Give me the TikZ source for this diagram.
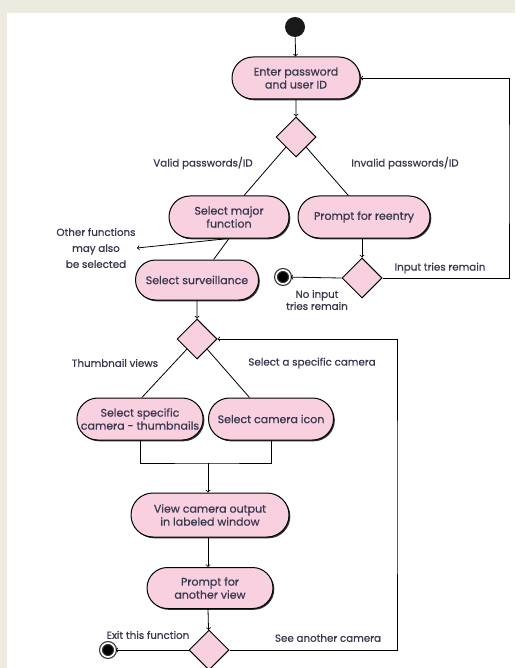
\documentclass[tikz,border=0pt]{standalone}
\usepackage{fontspec}
\setmainfont{Poppins}[FakeBold=0.5]
\usetikzlibrary{shapes.misc,shapes.geometric,shadows}

\definecolor{actpink}{RGB}{248,208,224}
\definecolor{pagebeige}{RGB}{237,234,224}
\definecolor{txtgray}{RGB}{55,55,78}

\tikzset{
  act/.style={rounded rectangle,draw,line width=1pt,fill=actpink,
    drop shadow={shadow xshift=1.3pt,shadow yshift=-1.3pt,fill=black!80,opacity=1},
    align=center,inner sep=1pt,text=txtgray,font=\fontsize{11}{13}\selectfont},
  dec/.style={diamond,draw,line width=1pt,fill=actpink,inner sep=0pt,
    minimum width=40pt,minimum height=40pt},
  lbl/.style={text=txtgray,align=center,inner sep=1pt,font=\fontsize{10.3}{16}\selectfont},
  startdot/.style={circle,fill=black!90,inner sep=0pt,minimum size=20pt},
  enddot/.style={circle,fill=black,draw=black!80,line width=1.2pt,double=white,
    double distance=1.6pt,inner sep=0pt,minimum size=14pt}
}

\begin{document}
\begin{tikzpicture}[x=1pt,y=-1pt,line width=0.8pt]
 		% page
 		\fill[pagebeige] (0,0) rectangle (515,668);
 		\fill[white] (7,13) rectangle (515,668);
 		\useasboundingbox (0,0) rectangle (515,668);

 		\node[startdot] (start) at (295,27) {};
 		\node[act,minimum width=130pt,minimum height=42pt] (enter) at (296,78) {Enter password\\and user ID};
 		\node[dec] (d1) at (296,137) {};

 		\node[act,minimum width=122pt,minimum height=42pt] (major) at (229,217) {Select major\\function};
 		\node[act,minimum width=134pt,minimum height=42pt] (reentry) at (364,217) {Prompt for reentry};
 		\node[dec] (d2) at (362,278) {};
 		\node[enddot] (stop1) at (283,277) {};

 		\node[act,minimum width=125pt,minimum height=40pt] (surv) at (197,280) {Select surveillance};
 		\node[dec] (d3) at (197,339) {};

 		\node[act,minimum width=125pt,minimum height=42pt] (thumb) at (140,419) {Select specific\\camera - thumbnails};
 		\node[act,minimum width=127pt,minimum height=42pt] (icon) at (271,419) {Select camera icon};
 		\coordinate (join) at (208,463);

 		\node[act,minimum width=160pt,minimum height=44pt] (view) at (210,515) {View camera output\\in labeled window};
 		\node[act,minimum width=128pt,minimum height=41pt] (another) at (210,588) {Prompt for\\another view};
 		\node[dec] (d4) at (209,650) {};
 		\node[enddot] (stop2) at (108,650) {};

 		\coordinate (loopr) at (509,170);
 		\coordinate (loopc) at (397,500);

 		% labels
 		\node[lbl] (valid) at (203,163) {Valid passwords/ID};
 		\node[lbl] (invalid) at (405,163) {Invalid passwords/ID};
 		\node[lbl] (other) at (96,248) {Other functions\\may also\\be selected};
 		\node[lbl] (tries) at (440,268) {Input tries remain};
 		\node[lbl,font=\fontsize{10.3}{12}\selectfont] (notries) at (317,300) {No input\\tries remain};
 		\node[lbl] (thumbv) at (115,363) {Thumbnail views};
 		\node[lbl] (specific) at (312,363) {Select a specific camera};
 		\node[lbl] (exit) at (148,635) {Exit this function};
 		\node[lbl] (seeanother) at (328,638) {See another camera};

 		% connectors
 		\draw[->] (start) -- (enter);
 		\draw[->] (enter) -- (d1);
 		\draw (d1.south west) -- (major.55);
 		\draw (d1.south east) -- (reentry.126);
 		\draw[->] (major.south) -- (other.east);
 		\draw (major.south) -- (surv.51);
 		\draw[->] (reentry.south -| d2) -- (d2);
 		\draw[->] (d2.west) -- (stop1);
 		\draw[->] (d2.east) -| (loopr) |- (enter.east);

 		\draw[->] (surv) -- (d3);
 		\draw (d3.south west) -- (thumb.85);
 		\draw (d3.south east) -- (icon.135);
 		\draw (thumb.south) |- (join) -| (icon.south);
 		\draw[->] (join) -- (view.north -| join);
 		\draw[->] (view.south -| join) -- (another.north -| join);
 		\draw[->] (another.south -| join) -- (d4);
 		\draw[->] (d4.west) -- (stop2);
 		\draw[->] (d4.east) -| (loopc) |- (d3.east);
\end{tikzpicture}
\end{document}
